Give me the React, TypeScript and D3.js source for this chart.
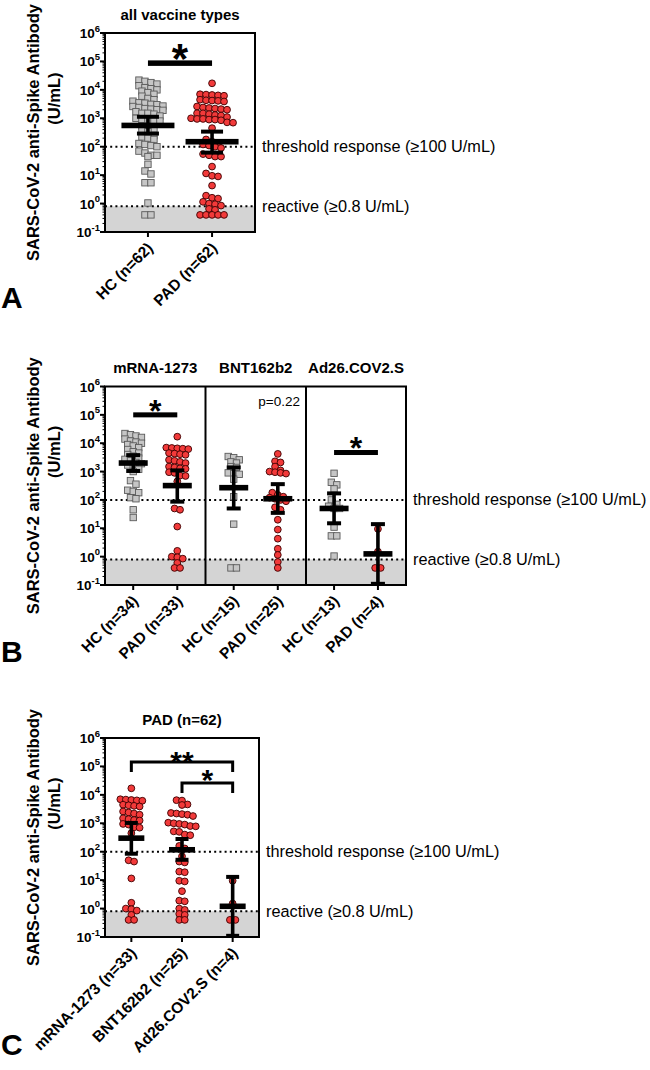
import React from "react";
import * as d3 from "d3";

const FONT = "'Liberation Sans', Arial, Helvetica, sans-serif";

// ---------- data (U/mL) ----------
const yTickExponents = [-1, 0, 1, 2, 3, 4, 5, 6];
const thresholdValue = 100;
const reactiveValue = 0.8;
const thresholdLabel = "threshold response (\u2265100 U/mL)";
const reactiveLabel = "reactive (\u22650.8 U/mL)";
const yTitle1 = "SARS-CoV-2 anti-Spike Antibody";
const yTitle2 = "(U/mL)";

const vaccines = ["mRNA-1273", "BNT162b2", "Ad26.COV2.S"];

const mrnaHC = [22000, 20000, 18000, 16000, 14000, 12000, 11000, 10000, 9000, 8000, 7000, 6000, 5000, 4500, 4000, 3500, 3000, 2700, 2400, 2100, 1900, 1700, 1500, 1200, 1000, 480, 360, 220, 200, 180, 120, 110, 45, 24];
const mrnaPAD = [17000, 7000, 6800, 6600, 6400, 6200, 4500, 4300, 4100, 3900, 2600, 2400, 2200, 2000, 1500, 1400, 1300, 1250, 950, 900, 720, 700, 450, 50, 45, 11.5, 1.6, 1.0, 0.95, 0.85, 0.6, 0.4, 0.4];
const bntHC = [3400, 3100, 2600, 2200, 2000, 1500, 1400, 900, 850, 800, 540, 130, 14, 0.4, 0.4];
const bntPAD = [4200, 2300, 2100, 1500, 1100, 1000, 950, 900, 850, 180, 150, 130, 120, 110, 100, 90, 55, 45, 20, 9, 4.3, 1.9, 1.15, 0.65, 0.4];
const adHC = [870, 420, 340, 245, 100, 70, 60, 50, 50, 11, 5.4, 5.4, 1.05];
const adPAD = [9.5, 1.5, 0.4, 0.4];
// BNT162b2 column as drawn in panel C
const bntPADc = [6500, 6300, 4600, 4400, 2300, 2200, 2100, 2000, 1800, 1050, 1000, 950, 900, 800, 780, 520, 500, 400, 380, 160, 130, 69, 45, 42, 20, 19, 9.5, 9, 4.1, 1.9, 1.8, 1.0, 0.9, 0.65, 0.6, 0.4, 0.4];

const hcAll = [...mrnaHC, ...bntHC, ...adHC];
const padAll = [...mrnaPAD, ...bntPAD, ...adPAD];

// geometric mean, lower 95% CI, upper 95% CI
const statsA = [[560, 290, 1130], [150, 62, 340]];
const statsB = [[2000, 1050, 3800], [320, 87, 1100], [270, 50, 1400], [110, 35, 360], [50, 15, 170], [1.25, 0.11, 14]];
const statsC = [[300, 85, 1030], [117, 52, 280], [1.2, 0.11, 13]];

const labelsA = ["HC (n=62)", "PAD (n=62)"];
const labelsB = ["HC (n=34)", "PAD (n=33)", "HC (n=15)", "PAD (n=25)", "HC (n=13)", "PAD (n=4)"];
const labelsC = ["mRNA-1273 (n=33)", "BNT162b2 (n=25)", "Ad26.COV2.S (n=4)"];
const titleA = "all vaccine types";
const titleC = "PAD (n=62)";
const pValueB = "p=0.22";

// ---------- helpers ----------
type Pt = { v: number; py: number; dx: number };
// GraphPad-like scatter: points close in y share a row, spread symmetrically
function rowLayout(values: number[], y: (v: number) => number, h: number, s: number): Pt[] {
  const pts: Pt[] = values.map((v) => ({ v, py: y(v), dx: 0 })).sort((a, b) => a.py - b.py);
  const flush = (r: Pt[]) => {
    const n = r.length;
    r.forEach((p, i) => (p.dx = (i - (n - 1) / 2) * s));
  };
  let row: Pt[] = [];
  for (const p of pts) {
    if (row.length && p.py - row[0].py > h) {
      flush(row);
      row = [];
    }
    row.push(p);
  }
  flush(row);
  return pts;
}

type Group = { label: string; values: number[]; kind: "sq" | "ci"; stat: number[] };
type Section = { x0: number; x1: number; pad: number; title?: string; groups: Group[] };
type Sig = {
  type: "bar" | "bracket";
  a: [number, number];
  sec: number;
  value: number;
  thick: number;
  star: string;
  size: number;
  gap: number;
};

type Spec = {
  letter: string;
  letterY: number;
  y0: number;
  y1: number;
  x0: number;
  x1: number;
  sections: Section[];
  meanW: number;
  capW: number;
  rowH: number;
  rowS: number;
  sigs: Sig[];
  pText?: { text: string; sec: number; value: number };
};

function Panel({ spec }: { spec: Spec }) {
  const { y0, y1, x0, x1 } = spec;
  const y = d3.scaleLog().domain([0.1, 1e6]).range([y1, y0]);
  const cy = (y0 + y1) / 2;
  const xs = spec.sections.map((s) =>
    d3.scalePoint<string>().domain(s.groups.map((g) => g.label)).range([s.x0, s.x1]).padding(s.pad)
  );
  const minor: number[] = [];
  for (let k = -1; k < 6; k++) for (let m = 2; m <= 9; m++) minor.push(m * Math.pow(10, k));
  const sq = 6.4;
  const r = 3.4;
  const yThr = y(thresholdValue);
  const yRea = y(reactiveValue);
  return (
    <g>
      <rect x={x0} y={yRea} width={x1 - x0} height={y1 - yRea} fill="#d4d4d4" />
      <line x1={x0} x2={x1} y1={yThr} y2={yThr} stroke="#000" strokeWidth={2} strokeDasharray="2,3.2" />
      <line x1={x0} x2={x1} y1={yRea} y2={yRea} stroke="#000" strokeWidth={2} strokeDasharray="2,3.2" />
      <text x={x1 + 7} y={yThr + 5.5} fontFamily={FONT} fontSize={16.3}>{thresholdLabel}</text>
      <text x={x1 + 7} y={yRea + 5.7} fontFamily={FONT} fontSize={16.3}>{reactiveLabel}</text>

      {spec.sections.map((s, si) =>
        s.groups.map((g, gi) => {
          const cx = xs[si](g.label) as number;
          const pts = rowLayout(g.values, (v) => y(v), spec.rowH, spec.rowS);
          return (
            <g key={`p${si}-${gi}`}>
              {pts.map((p, i) =>
                g.kind === "sq" ? (
                  <rect key={i} x={cx + p.dx - sq / 2} y={p.py - sq / 2} width={sq} height={sq} fill="#c6c6c6" stroke="#5a5a5a" strokeWidth={0.9} />
                ) : (
                  <circle key={i} cx={cx + p.dx} cy={p.py} r={r} fill="#f23a3a" stroke="#3a0000" strokeWidth={0.9} />
                )
              )}
            </g>
          );
        })
      )}

      {spec.sections.map((s, si) =>
        s.groups.map((g, gi) => {
          const cx = xs[si](g.label) as number;
          const [m, lo, hi] = g.stat;
          return (
            <g key={`e${si}-${gi}`} fill="#000">
              <line x1={cx} x2={cx} y1={y(lo)} y2={y(hi)} stroke="#000" strokeWidth={3.6} />
              <rect x={cx - spec.capW / 2} y={y(hi) - 2} width={spec.capW} height={4} />
              <rect x={cx - spec.capW / 2} y={y(lo) - 2} width={spec.capW} height={4} />
              <rect x={cx - spec.meanW / 2} y={y(m) - 2.8} width={spec.meanW} height={5.6} />
            </g>
          );
        })
      )}

      <rect x={x0} y={y0} width={x1 - x0} height={y1 - y0} fill="none" stroke="#000" strokeWidth={2} />
      {spec.sections.slice(1).map((s, i) => (
        <line key={i} x1={s.x0} x2={s.x0} y1={y0} y2={y1} stroke="#000" strokeWidth={2} />
      ))}

      {yTickExponents.map((e) => (
        <g key={e}>
          <line x1={x0 - 5} x2={x0} y1={y(Math.pow(10, e))} y2={y(Math.pow(10, e))} stroke="#000" strokeWidth={2} />
          <text x={x0 - 5} y={y(Math.pow(10, e)) + 5} textAnchor="end" fontFamily={FONT} fontWeight="bold" fontSize={13.5}>
            10<tspan dy={-6.5} fontSize={9.5}>{e}</tspan>
          </text>
        </g>
      ))}
      {minor.map((v, i) => (
        <line key={i} x1={x0 - 2.5} x2={x0} y1={y(v)} y2={y(v)} stroke="#000" strokeWidth={1} />
      ))}

      {spec.sections.map((s, si) =>
        s.groups.map((g, gi) => {
          const cx = xs[si](g.label) as number;
          return (
            <g key={`x${si}-${gi}`}>
              <line x1={cx} x2={cx} y1={y1} y2={y1 + 5} stroke="#000" strokeWidth={2} />
              <text transform={`translate(${cx + 6},${y1 + 17}) rotate(-45)`} textAnchor="end" fontFamily={FONT} fontWeight="bold" fontSize={15.5}>
                {g.label}
              </text>
            </g>
          );
        })
      )}

      {spec.sections.map((s, si) =>
        s.title ? (
          <text key={`t${si}`} x={(s.x0 + s.x1) / 2} y={y0 - 13.5} textAnchor="middle" fontFamily={FONT} fontWeight="bold" fontSize={15}>
            {s.title}
          </text>
        ) : null
      )}

      {spec.sigs.map((sg, i) => {
        const xa = xs[sg.sec](spec.sections[sg.sec].groups[sg.a[0]].label) as number;
        const xb = xs[sg.sec](spec.sections[sg.sec].groups[sg.a[1]].label) as number;
        const yy = y(sg.value);
        const starCy = yy - sg.gap;
        return (
          <g key={`s${i}`}>
            {sg.type === "bar" ? (
              <rect x={xa} y={yy - sg.thick / 2} width={xb - xa} height={sg.thick} fill="#000" />
            ) : (
              <path d={`M${xa},${yy + 10}V${yy}H${xb}V${yy + 10}`} fill="none" stroke="#000" strokeWidth={sg.thick} />
            )}
            <text x={(xa + xb) / 2} y={starCy + sg.size * 0.59} textAnchor="middle" fontFamily={FONT} fontWeight="bold" fontSize={sg.size}>
              {sg.star}
            </text>
          </g>
        );
      })}

      {spec.pText ? (
        <text x={spec.sections[spec.pText.sec].x1 - 6} y={y(spec.pText.value)} textAnchor="end" fontFamily={FONT} fontSize={13.5}>
          {spec.pText.text}
        </text>
      ) : null}

      <text transform={`translate(39,${cy}) rotate(-90)`} textAnchor="middle" fontFamily={FONT} fontWeight="bold" fontSize={16.5}>
        {yTitle1}
      </text>
      <text transform={`translate(60,${cy - 34}) rotate(-90)`} textAnchor="middle" fontFamily={FONT} fontWeight="bold" fontSize={16.5}>
        {yTitle2}
      </text>

      <text x={1} y={spec.letterY} fontFamily={FONT} fontWeight="bold" fontSize={30}>
        {spec.letter}
      </text>
    </g>
  );
}

const specA: Spec = {
  letter: "A",
  letterY: 308,
  y0: 33,
  y1: 232,
  x0: 105,
  x1: 255,
  meanW: 53,
  capW: 22,
  rowH: 5,
  rowS: 6,
  sections: [
    {
      x0: 105,
      x1: 255,
      pad: 0.67,
      title: titleA,
      groups: [
        { label: labelsA[0], values: hcAll, kind: "sq", stat: statsA[0] },
        { label: labelsA[1], values: padAll, kind: "ci", stat: statsA[1] },
      ],
    },
  ],
  sigs: [{ type: "bar", a: [0, 1], sec: 0, value: 87000, thick: 5.5, star: "*", size: 42, gap: 15 }],
};

const specB: Spec = {
  letter: "B",
  letterY: 662,
  y0: 386.5,
  y1: 585,
  x0: 105,
  x1: 406,
  meanW: 29,
  capW: 14,
  rowH: 4.5,
  rowS: 5.5,
  sections: [
    {
      x0: 105,
      x1: 205.5,
      pad: 0.64,
      title: vaccines[0],
      groups: [
        { label: labelsB[0], values: mrnaHC, kind: "sq", stat: statsB[0] },
        { label: labelsB[1], values: mrnaPAD, kind: "ci", stat: statsB[1] },
      ],
    },
    {
      x0: 205.5,
      x1: 306,
      pad: 0.64,
      title: vaccines[1],
      groups: [
        { label: labelsB[2], values: bntHC, kind: "sq", stat: statsB[2] },
        { label: labelsB[3], values: bntPAD, kind: "ci", stat: statsB[3] },
      ],
    },
    {
      x0: 306,
      x1: 406,
      pad: 0.64,
      title: vaccines[2],
      groups: [
        { label: labelsB[4], values: adHC, kind: "sq", stat: statsB[4] },
        { label: labelsB[5], values: adPAD, kind: "ci", stat: statsB[5] },
      ],
    },
  ],
  sigs: [
    { type: "bar", a: [0, 1], sec: 0, value: 100000, thick: 5, star: "*", size: 32, gap: 12 },
    { type: "bar", a: [0, 1], sec: 2, value: 4700, thick: 5, star: "*", size: 32, gap: 12 },
  ],
  pText: { text: pValueB, sec: 1, value: 200000 },
};

const specC: Spec = {
  letter: "C",
  letterY: 1055,
  y0: 738,
  y1: 937,
  x0: 105,
  x1: 259,
  meanW: 26,
  capW: 13,
  rowH: 4.5,
  rowS: 5.5,
  sections: [
    {
      x0: 105,
      x1: 259,
      pad: 0.52,
      title: titleC,
      groups: [
        { label: labelsC[0], values: mrnaPAD, kind: "ci", stat: statsC[0] },
        { label: labelsC[1], values: bntPADc, kind: "ci", stat: statsC[1] },
        { label: labelsC[2], values: adPAD, kind: "ci", stat: statsC[2] },
      ],
    },
  ],
  sigs: [
    { type: "bracket", a: [0, 2], sec: 0, value: 144000, thick: 3, star: "**", size: 30, gap: 8 },
    { type: "bracket", a: [1, 2], sec: 0, value: 26000, thick: 3, star: "*", size: 30, gap: 11 },
  ],
};

export default function App() {
  return (
    <svg width={650} height={1070} style={{ position: "absolute", left: 0, top: 0, background: "#fff" }}>
      <rect width={650} height={1070} fill="#fff" />
      <Panel spec={specA} />
      <Panel spec={specB} />
      <Panel spec={specC} />
    </svg>
  );
}
